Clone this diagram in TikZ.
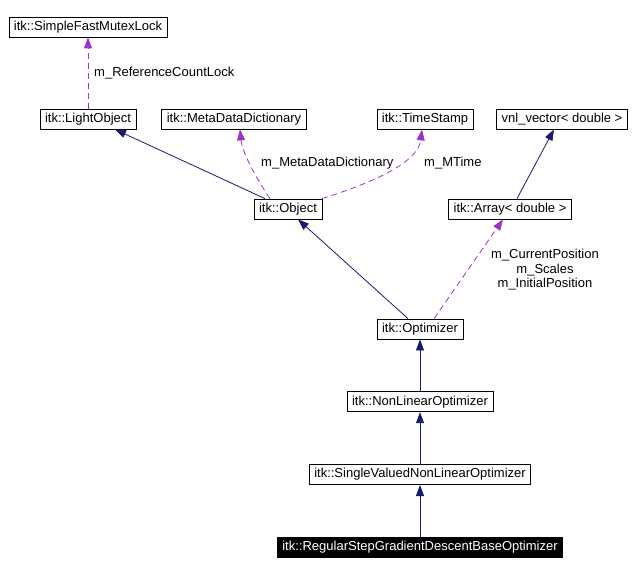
\documentclass[tikz,border=0pt]{standalone}
\usepackage{fontspec}
\setmainfont{Liberation Sans}
\usepackage{tikz}
\usetikzlibrary{arrows.meta,positioning}
\definecolor{inhnavy}{RGB}{25,25,112}
\definecolor{usepurple}{RGB}{154,50,205}

\begin{document}
\begin{tikzpicture}[
    x=1pt, y=-1pt,
    node distance=52pt and 12pt,
    font=\fontsize{13}{14.5}\selectfont,
    cls/.style={draw, line width=0.8pt, inner xsep=5pt, inner ysep=0pt, minimum height=20pt, fill=white},
    current/.style={cls, fill=black, text=white},
    inherit/.style={-{Triangle[length=11pt, width=8pt]}, inhnavy, line width=0.8pt},
    uses/.style={-{Triangle[length=11pt, width=8pt]}, usepurple, line width=0.8pt, dash pattern=on 6pt off 4pt},
    memb/.style={inner sep=0pt, align=center}
  ]
    \useasboundingbox (0,0) rectangle (632,572);

    \node[cls] (mutex) at (88,27) {itk::SimpleFastMutexLock};
    \node[cls] (light) at (88,119) {itk::LightObject};
    \node[cls] (meta) at (234,119) {itk::MetaDataDictionary};
    \node[cls] (stamp) at (425,119) {itk::TimeStamp};
    \node[cls] (vnl) at (562,119) {vnl\_vector< double >};
    \node[cls] (obj) at (288,209) {itk::Object};
    \node[cls] (arr) at (510,209) {itk::Array< double >};
    \node[cls] (opt) at (420,329) {itk::Optimizer};
    \node[cls, below=of opt] (nonlin) {itk::NonLinearOptimizer};
    \node[cls, below=of nonlin] (single) {itk::SingleValuedNonLinearOptimizer};
    \node[current, below=of single] (regular) {itk::RegularStepGradientDescentBaseOptimizer};

    \node[memb, anchor=west] (lbllock) at (94,73) {m\_ReferenceCountLock};
    \node[memb, anchor=west] (lbldict) at (261,163) {m\_MetaDataDictionary};
    \node[memb, anchor=west] (lbltime) at (424,163) {m\_MTime};
    \node[memb] (lblarr) at (545,270) {m\_CurrentPosition\\m\_Scales\\m\_InitialPosition};

    \draw[uses] (light.north) -- (mutex.south);
    \draw[inherit] ([xshift=-23pt]obj.north) -- ([xshift=27pt]light.south);
    \draw[uses] ([xshift=-18pt]obj.north) .. controls (252,172) and (242,150) .. ([xshift=6pt]meta.south);
    \draw[uses] ([xshift=34pt]obj.north) .. controls (375,182) and (418,162) .. ([xshift=-3pt]stamp.south);
    \draw[inherit] ([xshift=7pt]arr.north) -- ([xshift=-8pt]vnl.south);
    \draw[inherit] ([xshift=-12pt]opt.north) -- ([xshift=10pt]obj.south);
    \draw[uses] ([xshift=14pt]opt.north) -- ([xshift=-7pt]arr.south);
    \draw[inherit] (nonlin.north) -- (opt.south);
    \draw[inherit] (single.north) -- (nonlin.south);
    \draw[inherit] (regular.north) -- (single.south);
  \end{tikzpicture}
\end{document}
